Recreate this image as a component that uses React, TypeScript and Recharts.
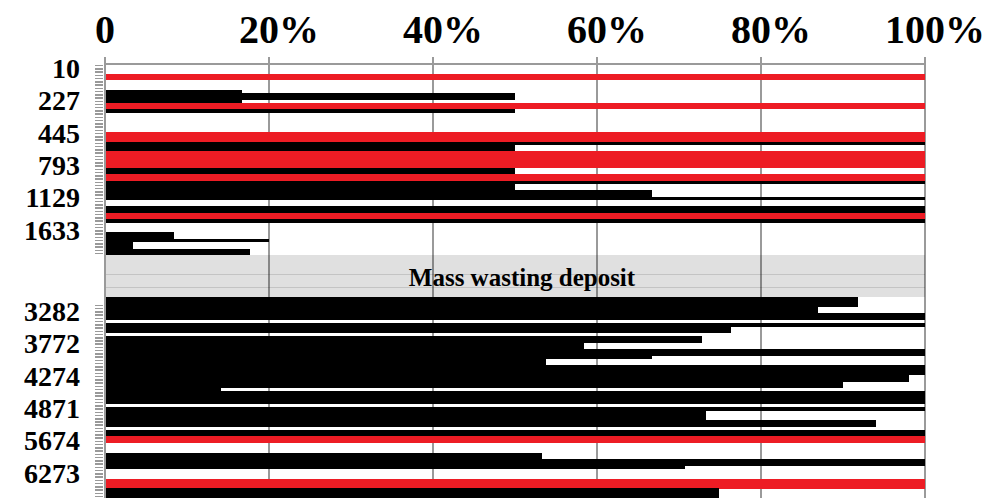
import { BarChart, Bar, XAxis, YAxis, CartesianGrid, Cell } from "recharts";

// depth labels shown on the y axis and the sample row each one sits on
const depthLabels = ["10", "227", "445", "793", "1129", "1633", "3282", "3772", "4274", "4871", "5674", "6273"];
const depthLabelRows = [1, 11, 21, 31, 41, 51, 76, 86, 96, 106, 116, 126];

// percentage per sample row, top to bottom (null = mass wasting deposit gap)
const rowValues: (number | null)[] = [
  0, 0, 0, 100, 100, 0, 0, 0, 16.7, 50,
  50, 16.7, 100, 100, 50, 0, 0, 0, 0, 0,
  0, 100, 100, 100, 100, 50, 50, 100, 100, 100,
  100, 100, 50, 50, 100, 100, 100, 50, 50, 66.7,
  66.7, 100, 0, 0, 100, 100, 100, 100, 100, 0,
  0, 0, 8.4, 8.4, 20, 3.4, 3.4, 17.7, 17.7, null,
  null, null, null, null, null, null, null, null, null, null,
  null, null, 91.8, 91.8, 91.8, 86.9, 86.9, 100, 100, 0,
  100, 76.4, 76.4, 0, 72.8, 72.8, 58.4, 58.4, 100, 100,
  66.7, 53.8, 53.8, 100, 100, 100, 98, 98, 90, 90,
  14.2, 100, 100, 100, 100, 0, 100, 73.3, 73.3, 73.3,
  94, 94, 0, 100, 100, 100, 100, 0, 0, 0,
  53.3, 53.3, 100, 100, 70.7, 0, 0, 0, 100, 100,
  100, 74.9, 74.9, 74.9, 0, 0,
];

// rows drawn in red
const redRows = [3, 4, 12, 13, 21, 22, 23, 27, 28, 29, 30, 31, 34, 35, 46, 47, 115, 116, 128, 129, 130];

const bandFirst = 59;
const bandLast = 71;
const bandTitle = "Mass wasting deposit";
const noTickLast = 73;
const xTicks = [0, 20, 40, 60, 80, 100];

const rows = rowValues.map((v, i) => ({
  row: String(i),
  v: v ?? 0,
  band: v === null ? 100 : 0,
  red: redRows.includes(i),
}));

const serif = "'Liberation Serif', 'Times New Roman', serif";
const PLOT_LEFT = 97;
const PLOT_RIGHT = 917;
const ROW_H = 3.24;
const PLOT_H = rows.length * ROW_H;

// full-height row strip (recharts truncates the bar size to whole pixels)
function RowBar(props: any) {
  const { x, y, width, height, fill, fillOpacity } = props;
  if (!width || width <= 0) return <g />;
  const cy = y + height / 2;
  return <rect x={x} y={cy - ROW_H / 2} width={width} height={ROW_H + 0.2} fill={fill} fillOpacity={fillOpacity} />;
}

function DepthTick(props: any) {
  const { y, payload } = props;
  const i = Number(payload.value);
  const li = depthLabelRows.indexOf(i);
  const skip = i >= bandFirst && i <= noTickLast;
  const mid = Math.round((bandFirst + bandLast) / 2);
  return (
    <g>
      {!skip && (
        <line x1={PLOT_LEFT - 10} x2={PLOT_LEFT - 2} y1={y} y2={y} stroke="#999" strokeWidth={1.5} />
      )}
      {li >= 0 && (
        <text x={PLOT_LEFT - 25} y={y} dy={9} textAnchor="end" fontFamily={serif} fontWeight="bold" fontSize={28} fill="#000">
          {depthLabels[li]}
        </text>
      )}
      {i === mid && (
        <text x={(PLOT_LEFT + PLOT_RIGHT) / 2 + 7} y={y} dy={10} textAnchor="middle" fontFamily={serif} fontWeight="bold" fontSize={25} fill="#000">
          {bandTitle}
        </text>
      )}
    </g>
  );
}

function PctTick(props: any) {
  const { x, payload } = props;
  const v = payload.value;
  return (
    <text x={x + (v === 0 ? 0 : 10)} y={35} textAnchor="middle" fontFamily={serif} fontWeight="bold" fontSize={40} fill="#000">
      {v === 0 ? "0" : `${v}%`}
    </text>
  );
}

export default function App() {
  return (
    <div style={{ width: 986, height: 490, overflow: "hidden", shapeRendering: "crispEdges" }}>
      <BarChart
        width={986}
        height={56 + PLOT_H}
        data={rows}
        layout="vertical"
        barCategoryGap={0}
        barGap={0}
        margin={{ top: 16, right: 69, bottom: 0, left: 7 }}
      >
        <CartesianGrid horizontal={false} stroke="#9a9a9a" strokeWidth={1.5} />
        <XAxis
          type="number"
          orientation="top"
          domain={[0, 100]}
          ticks={xTicks}
          interval={0}
          height={40}
          tickSize={7}
          axisLine={{ stroke: "#9a9a9a", strokeWidth: 1.5 }}
          tickLine={{ stroke: "#9a9a9a", strokeWidth: 1.5 }}
          tick={<PctTick />}
        />
        <YAxis
          type="category"
          dataKey="row"
          width={90}
          interval={0}
          tickLine={false}
          axisLine={{ stroke: "#9a9a9a", strokeWidth: 1.5 }}
          tick={<DepthTick />}
        />
        <Bar dataKey="band" stackId="s" fill="#000" fillOpacity={0.12} shape={<RowBar />} isAnimationActive={false} />
        <Bar dataKey="v" stackId="s" shape={<RowBar />} isAnimationActive={false}>
          {rows.map((r) => (
            <Cell key={r.row} fill={r.red ? "#ED1C24" : "#000"} />
          ))}
        </Bar>
      </BarChart>
    </div>
  );
}
